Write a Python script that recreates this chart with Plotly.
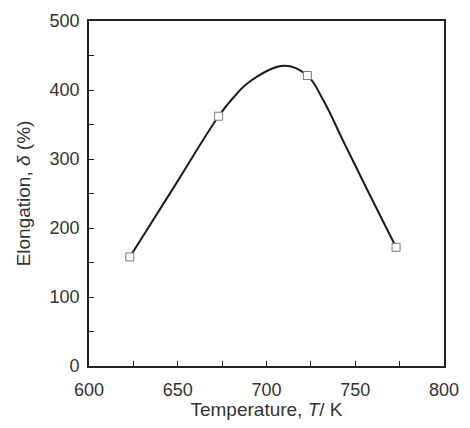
import plotly.graph_objects as go

# measured points
temperature_K = [623, 673, 723, 773]
elongation_pct = [158, 362, 421, 172]

# fitted curve as drawn in the figure
curve_T = [623, 648, 673, 681, 691, 710, 723, 732, 744, 758, 773]
curve_delta = [158, 260, 362, 388, 413, 435, 421, 385, 322, 249, 172]

x_ticks = [600, 650, 700, 750, 800]
y_ticks = [0, 100, 200, 300, 400, 500]

fig = go.Figure()
fig.add_trace(go.Scatter(
    x=curve_T, y=curve_delta, mode="lines",
    line=dict(color="#1a1a1a", width=2, shape="spline", smoothing=1.1),
    showlegend=False, hoverinfo="skip",
))
fig.add_trace(go.Scatter(
    x=temperature_K, y=elongation_pct, mode="markers",
    marker=dict(symbol="square", size=8, color="white", line=dict(width=1, color="#777777")),
    showlegend=False,
))

tick_font = dict(family="Liberation Sans, Arial, sans-serif", size=18, color="#333333")
title_font = dict(family="Liberation Sans, Arial, sans-serif", size=19, color="#333333")
fig.update_layout(
    width=470, height=428,
    margin=dict(l=89, r=26, t=11, b=62),
    paper_bgcolor="white", plot_bgcolor="white",
    font=tick_font,
)
fig.update_xaxes(
    range=[600, 800], tickvals=x_ticks, ticktext=[str(v) for v in x_ticks],
    ticks="inside", ticklen=5, tickwidth=1.3, tickcolor="#222",
    minor=dict(dtick=25, tick0=600, ticks="inside", ticklen=5, tickwidth=1.3, tickcolor="#222"),
    showline=True, linecolor="#222", linewidth=1.8, mirror=True,
    showgrid=False, zeroline=False, tickfont=tick_font, ticklabelstandoff=6,
    title=dict(text="Temperature, <i>T</i>/ K", standoff=0, font=title_font),
)
fig.update_yaxes(
    range=[0, 500], tickvals=y_ticks, ticktext=[str(v) for v in y_ticks],
    ticks="inside", ticklen=5, tickwidth=1.3, tickcolor="#222",
    minor=dict(dtick=50, tick0=0, ticks="inside", ticklen=5, tickwidth=1.3, tickcolor="#222"),
    showline=True, linecolor="#222", linewidth=1.8, mirror=True,
    showgrid=False, zeroline=False, tickfont=tick_font, ticklabelstandoff=4,
    title=dict(text="Elongation, <i>δ</i> (%)", standoff=14, font=title_font),
)

fig.write_html("out.html")
